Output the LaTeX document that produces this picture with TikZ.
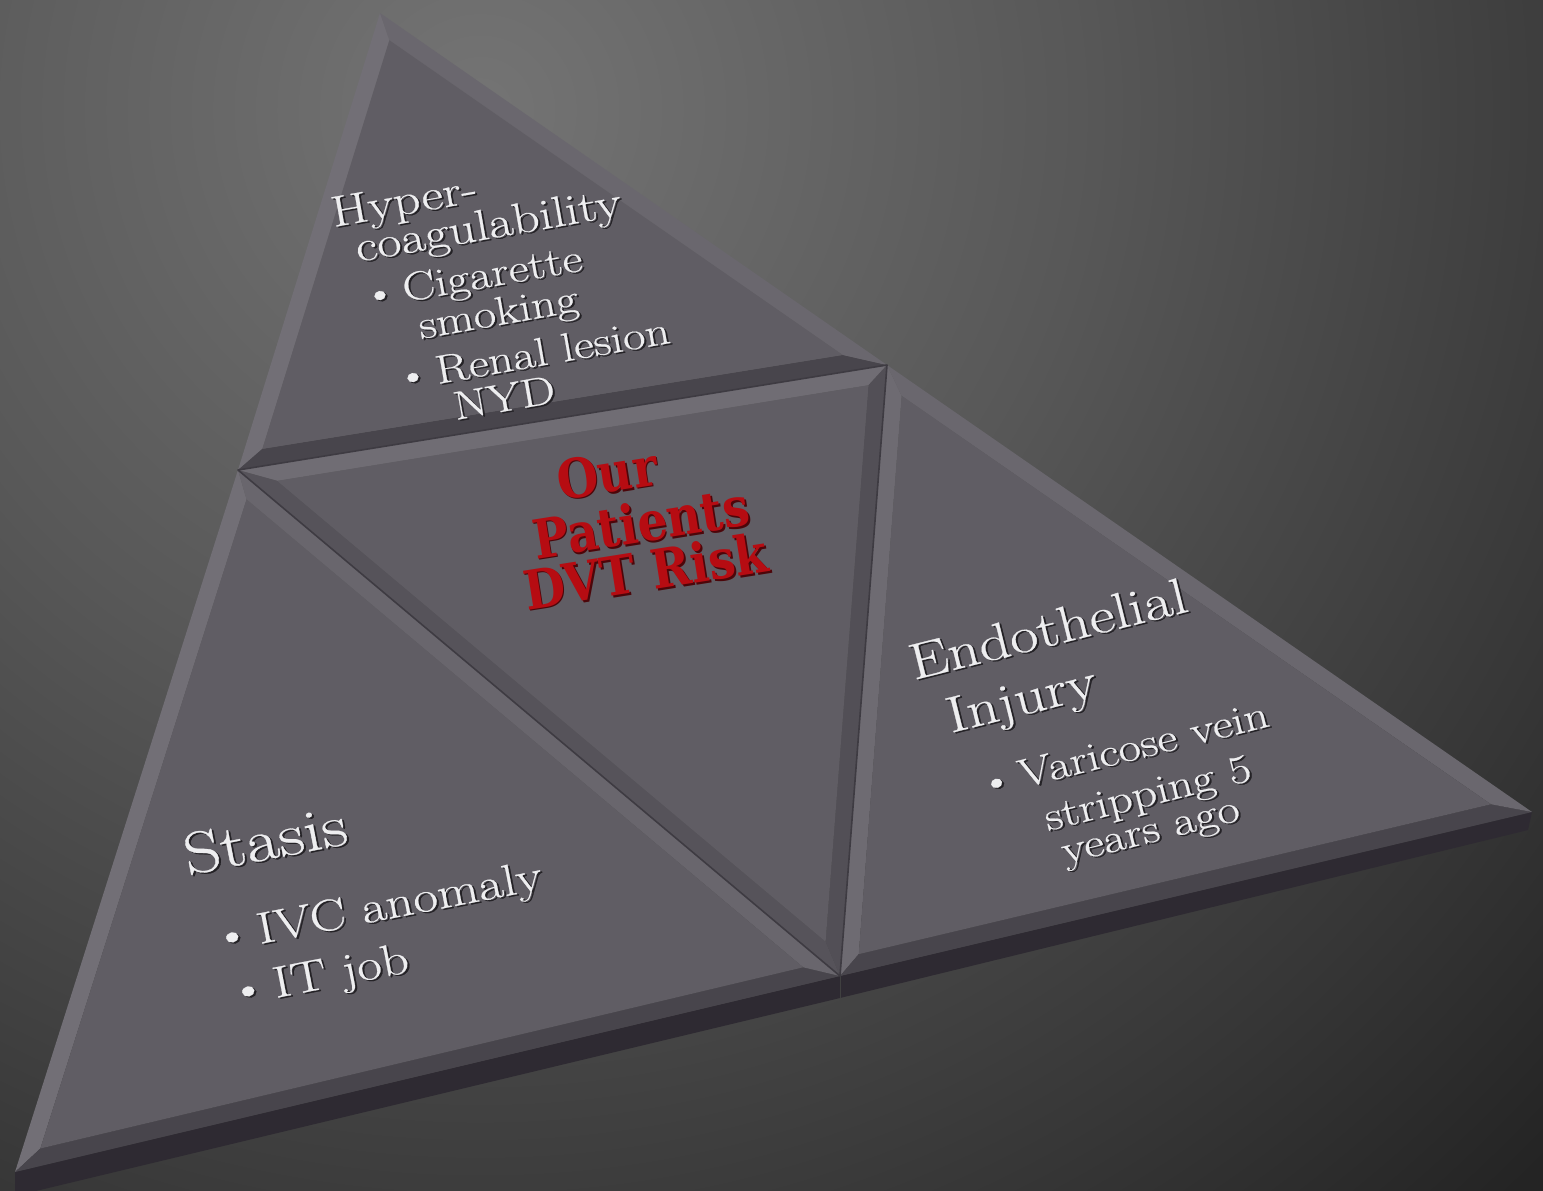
\documentclass[tikz,border=0pt]{standalone}
\usepackage{fontspec}
\newfontfamily\slabfont{DejaVu Serif}
\newfontfamily\faceserif{Latin Modern Roman}[FakeBold=0.5]
\usetikzlibrary{calc}

\definecolor{bgA}{RGB}{116,116,116}
\definecolor{bgB}{RGB}{88,88,88}
\definecolor{bgC}{RGB}{54,54,54}
\definecolor{bgD}{RGB}{36,36,36}
\definecolor{tileface}{RGB}{96,93,100}
\definecolor{slabside}{RGB}{46,42,50}
\definecolor{groove}{RGB}{62,59,66}
\definecolor{inkshadow}{RGB}{36,34,38}
\definecolor{inkwhite}{RGB}{238,238,240}
\definecolor{riskred}{RGB}{182,12,18}
\definecolor{riskdark}{RGB}{76,6,10}

% soft radial backdrop (the path's box spans the 0..25bp radius)
\pgfdeclareradialshading{backdrop}{\pgfpoint{0bp}{0bp}}{%
  color(0bp)=(bgA); color(8.8bp)=(bgB); color(17.6bp)=(bgC); color(22bp)=(bgD); color(50bp)=(bgD)}

% text with a small dark drop shadow (embossed look)
\newcommand\embtext[2]{\makebox[0pt][l]{\hspace{0.9pt}\raisebox{-1pt}{\textcolor{#1}{#2}}}#2}
% one line of text lying on a tile: name, x, y, angle, style, text
\newcommand\facetext[6]{%
  \begin{scope}[shift={(#2,#3)},rotate=#4]
    \node[#5] (#1) at (0,0) {#6};
  \end{scope}}

\tikzset{
  facelabel/.style={anchor=base west,inner sep=0pt,outer sep=0pt,transform shape},
  whiteink/.style={facelabel,text=inkwhite,yscale=0.82},
  headtop/.style={whiteink,font=\faceserif\fontsize{26.5}{30}\selectfont},
  itemtop/.style={whiteink,font=\faceserif\fontsize{24.5}{28}\selectfont},
  headleft/.style={whiteink,font=\faceserif\fontsize{36}{42}\selectfont},
  itemleft/.style={whiteink,font=\faceserif\fontsize{27}{32}\selectfont},
  headright/.style={whiteink,font=\faceserif\fontsize{31}{36}\selectfont},
  itemright/.style={whiteink,font=\faceserif\fontsize{24.5}{29}\selectfont},
  riskline/.style={facelabel,text=riskred,xscale=0.88,font=\slabfont\bfseries\fontsize{27}{32}\selectfont},
  bevel/.style n args={3}{fill={rgb,255:red,#1;green,#2;blue,#3}},
  grooveline/.style={draw=groove,line width=0.8pt,line join=round}
}

\begin{document}
\begin{tikzpicture}[x=0.5pt,y=-0.5pt]
\useasboundingbox (0,0) rectangle (1543,1190);

% backdrop
\begin{scope}
  \clip (0,0) rectangle (1543,1190);
  \shade[shading=backdrop] (480,110) circle (1700);
\end{scope}

% corner points of the big triangle and its midpoints
\coordinate (A)  at (380,13);
\coordinate (B)  at (15,1172);
\coordinate (C)  at (1532,812);
\coordinate (ML) at (238,470);
\coordinate (MR) at (887,365);
\coordinate (MB) at (840,976);

% incentres of the four tiles
\coordinate (It) at (468.4,270.0);
\coordinate (Il) at (351.1,860.0);
\coordinate (Ir) at (1056.9,722.3);
\coordinate (Ic) at (678.6,591.6);

% thickness of the slab along the front edge
\fill[slabside] (B) -- (MB) -- (C) -- ($(C)+(-4,18)$) -- ($(MB)+(0,22)$) -- ($(B)+(0,24)$) -- cycle;
\draw[black!75,line width=0.4pt] (MB) -- ($(MB)+(0,22)$);

% top tile
\coordinate (tA) at ($(A)!0.1058!(It)$);
\coordinate (tL) at ($(ML)!0.1058!(It)$);
\coordinate (tR) at ($(MR)!0.1058!(It)$);
\fill[bevel={114}{111}{118}] (A) -- (ML) -- (tL) -- (tA) -- cycle;
\fill[bevel={72}{69}{76}]    (ML) -- (MR) -- (tR) -- (tL) -- cycle;
\fill[bevel={106}{103}{110}] (MR) -- (A) -- (tA) -- (tR) -- cycle;
\fill[tileface] (tA) -- (tL) -- (tR) -- cycle;

% left tile
\coordinate (lL) at ($(ML)!0.0753!(Il)$);
\coordinate (lB) at ($(B)!0.0753!(Il)$);
\coordinate (lM) at ($(MB)!0.0753!(Il)$);
\fill[bevel={114}{111}{118}] (ML) -- (B) -- (lB) -- (lL) -- cycle;
\fill[bevel={72}{69}{76}]    (B) -- (MB) -- (lM) -- (lB) -- cycle;
\fill[bevel={105}{102}{109}] (MB) -- (ML) -- (lL) -- (lM) -- cycle;
\fill[tileface] (lL) -- (lB) -- (lM) -- cycle;

% right tile
\coordinate (rR) at ($(MR)!0.0863!(Ir)$);
\coordinate (rM) at ($(MB)!0.0863!(Ir)$);
\coordinate (rC) at ($(C)!0.0863!(Ir)$);
\fill[bevel={110}{107}{114}] (MR) -- (MB) -- (rM) -- (rR) -- cycle;
\fill[bevel={72}{69}{76}]    (MB) -- (C) -- (rC) -- (rM) -- cycle;
\fill[bevel={106}{103}{110}] (C) -- (MR) -- (rR) -- (rC) -- cycle;
\fill[tileface] (rR) -- (rM) -- (rC) -- cycle;

% centre tile
\coordinate (cL) at ($(ML)!0.0893!(Ic)$);
\coordinate (cR) at ($(MR)!0.0893!(Ic)$);
\coordinate (cM) at ($(MB)!0.0893!(Ic)$);
\fill[bevel={112}{109}{116}] (ML) -- (MR) -- (cR) -- (cL) -- cycle;
\fill[bevel={82}{79}{86}]    (MR) -- (MB) -- (cM) -- (cR) -- cycle;
\fill[bevel={86}{83}{90}]    (MB) -- (ML) -- (cL) -- (cM) -- cycle;
\fill[tileface] (cL) -- (cR) -- (cM) -- cycle;

% grooves between the tiles
\draw[grooveline] (ML) -- (MR) -- (MB) -- cycle;

% hypercoagulability
\facetext{hyper}{334}{227}{10}{headtop}{\embtext{inkshadow}{Hyper-}}
\facetext{coag}{358}{262}{10}{headtop}{\embtext{inkshadow}{coagulability}}
\facetext{cig}{405}{302}{10}{itemtop}{\embtext{inkshadow}{\llap{\textbullet\hspace{0.12em}}Cigarette}}
\facetext{smok}{421}{339}{10}{itemtop}{\embtext{inkshadow}{smoking}}
\facetext{renal}{438}{384}{10}{itemtop}{\embtext{inkshadow}{\llap{\textbullet\hspace{0.12em}}Renal lesion}}
\facetext{nyd}{456}{420}{10}{itemtop}{\embtext{inkshadow}{NYD}}

% stasis
\facetext{stasis}{188}{875}{11}{headleft}{\embtext{inkshadow}{Stasis}}
\facetext{ivc}{260}{944}{11}{itemleft}{\embtext{inkshadow}{\llap{\textbullet\hspace{0.12em}}IVC anomaly}}
\facetext{itjob}{276}{998}{11}{itemleft}{\embtext{inkshadow}{\llap{\textbullet\hspace{0.12em}}IT job}}

% endothelial injury
\facetext{endo}{914}{680}{14}{headright}{\embtext{inkshadow}{Endothelial}}
\facetext{injury}{951}{733}{14}{headright}{\embtext{inkshadow}{Injury}}
\facetext{vari}{1022}{788}{14}{itemright}{\embtext{inkshadow}{\llap{\textbullet\hspace{0.12em}}Varicose vein}}
\facetext{strip}{1048}{831}{14}{itemright}{\embtext{inkshadow}{stripping 5}}
\facetext{years}{1065}{864}{14}{itemright}{\embtext{inkshadow}{years ago}}

% centre title
\facetext{our}{560}{500}{9}{riskline}{\embtext{riskdark}{Our}}
\facetext{patients}{536}{559}{9}{riskline}{\embtext{riskdark}{Patients}}
\facetext{dvt}{527}{610}{9}{riskline}{\embtext{riskdark}{DVT Risk}}
\end{tikzpicture}
\end{document}
